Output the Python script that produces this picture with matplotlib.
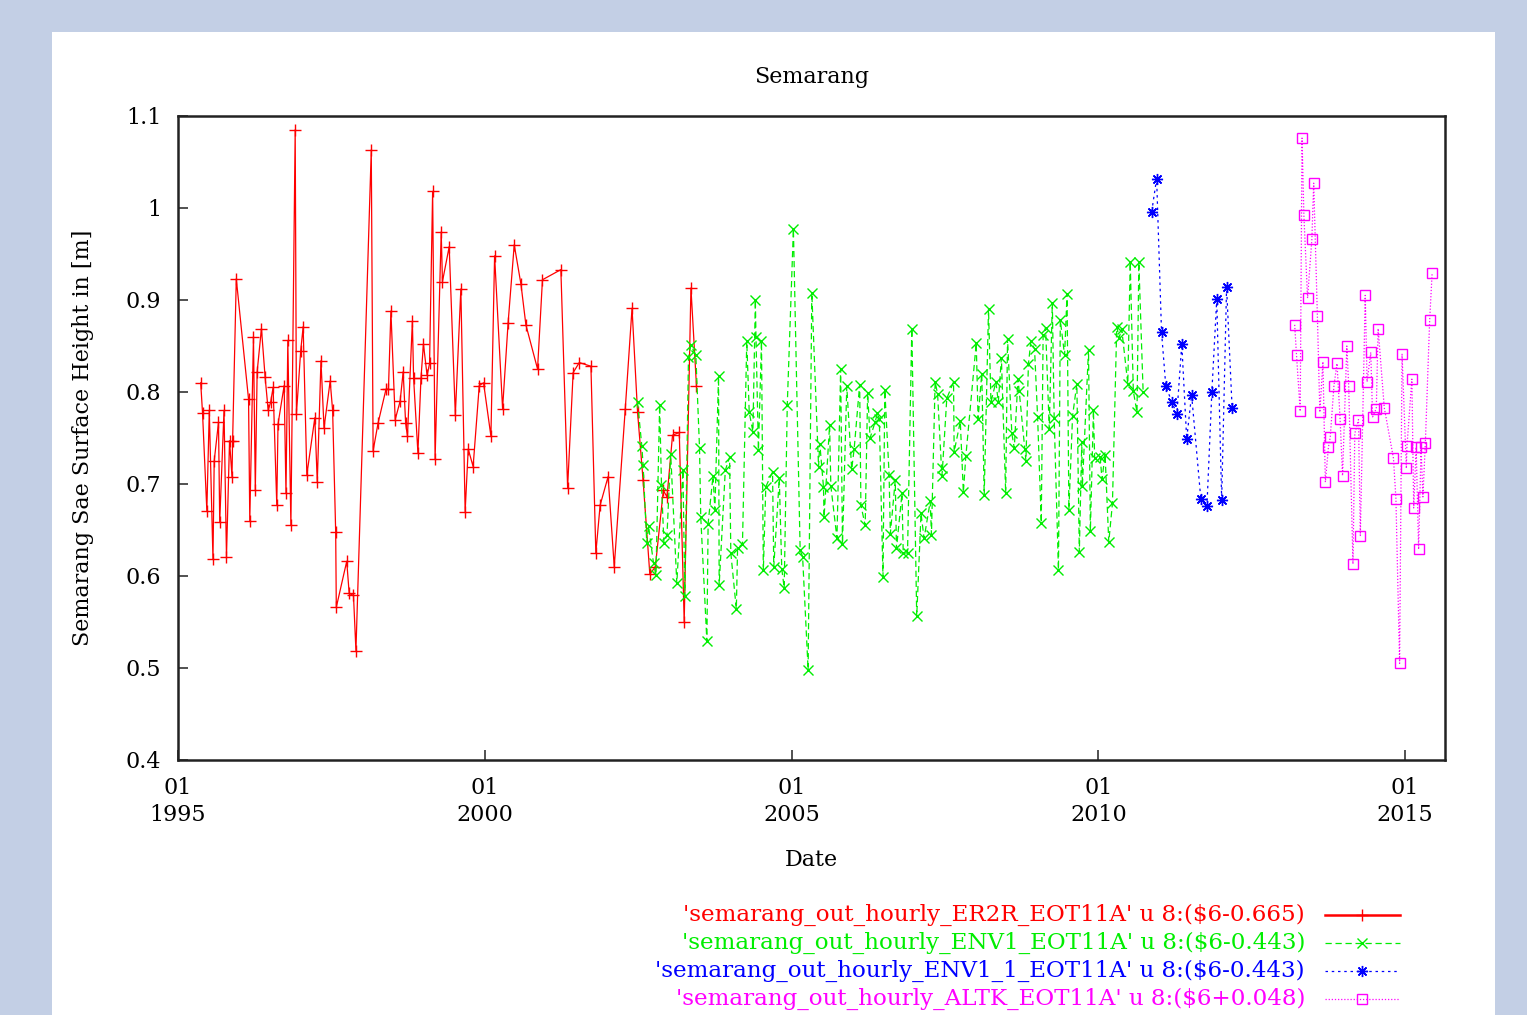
"""Semarang sea surface height from altimetry, gnuplot-style chart."""

import matplotlib
matplotlib.use("Agg")
import matplotlib.pyplot as plt
from matplotlib.lines import Line2D
from matplotlib.patches import Rectangle

# --- data (decimal year, height in m) ---
er2r_t = [1995.37, 1995.40, 1995.47, 1995.51, 1995.57, 1995.59, 1995.66, 1995.68, 1995.75, 1995.79,
          1995.84, 1995.88, 1995.89, 1995.95, 1996.15, 1996.17, 1996.23, 1996.26, 1996.29, 1996.36,
          1996.42, 1996.47, 1996.51, 1996.55, 1996.61, 1996.63, 1996.73, 1996.76, 1996.79, 1996.84,
          1996.91, 1996.93, 1997.00, 1997.04, 1997.10, 1997.23, 1997.27, 1997.33, 1997.38, 1997.48,
          1997.52, 1997.57, 1997.58, 1997.75, 1997.79, 1997.86, 1997.90, 1998.15, 1998.18, 1998.26,
          1998.39, 1998.43, 1998.47, 1998.54, 1998.62, 1998.67, 1998.71, 1998.74, 1998.82, 1998.84,
          1998.91, 1998.96, 1999.00, 1999.06, 1999.10, 1999.15, 1999.19, 1999.29, 1999.31, 1999.42,
          1999.52, 1999.61, 1999.68, 1999.73, 1999.81, 1999.91, 1999.98, 2000.10, 2000.16, 2000.29,
          2000.38, 2000.48, 2000.59, 2000.67, 2000.86, 2000.94, 2001.24, 2001.35, 2001.44, 2001.54,
          2001.73, 2001.81, 2001.88, 2002.01, 2002.11, 2002.29, 2002.40, 2002.49, 2002.58, 2002.69,
          2002.78, 2002.91, 2002.97, 2003.06, 2003.17, 2003.25, 2003.36, 2003.45]
er2r_h = [0.810, 0.777, 0.671, 0.780, 0.618, 0.725, 0.767, 0.659, 0.780, 0.621,
          0.747, 0.708, 0.747, 0.923, 0.792, 0.660, 0.860, 0.693, 0.822, 0.869,
          0.816, 0.780, 0.789, 0.805, 0.677, 0.765, 0.807, 0.690, 0.856, 0.655,
          1.085, 0.776, 0.845, 0.871, 0.710, 0.772, 0.702, 0.834, 0.761, 0.812,
          0.780, 0.648, 0.566, 0.616, 0.581, 0.579, 0.519, 1.063, 0.736, 0.766,
          0.803, 0.803, 0.888, 0.770, 0.790, 0.822, 0.766, 0.752, 0.877, 0.815,
          0.734, 0.815, 0.852, 0.818, 0.831, 1.018, 0.727, 0.974, 0.920, 0.958,
          0.775, 0.912, 0.670, 0.738, 0.719, 0.807, 0.810, 0.752, 0.948, 0.782,
          0.875, 0.960, 0.917, 0.873, 0.825, 0.922, 0.933, 0.696, 0.821, 0.832,
          0.828, 0.625, 0.677, 0.708, 0.610, 0.782, 0.891, 0.778, 0.704, 0.602,
          0.610, 0.693, 0.686, 0.753, 0.756, 0.550, 0.913, 0.807]

env1_t = [2002.49, 2002.56, 2002.58, 2002.64, 2002.67, 2002.75, 2002.79, 2002.85, 2002.88, 2002.92,
          2002.97, 2003.03, 2003.13, 2003.23, 2003.26, 2003.32, 2003.36, 2003.44, 2003.50, 2003.52,
          2003.62, 2003.64, 2003.72, 2003.75, 2003.81, 2003.82, 2003.92, 2003.99, 2004.01, 2004.10,
          2004.12, 2004.20, 2004.27, 2004.31, 2004.37, 2004.41, 2004.42, 2004.46, 2004.51, 2004.54,
          2004.58, 2004.69, 2004.71, 2004.80, 2004.84, 2004.88, 2004.93, 2005.03, 2005.14, 2005.18,
          2005.27, 2005.33, 2005.44, 2005.46, 2005.52, 2005.53, 2005.62, 2005.64, 2005.74, 2005.80,
          2005.83, 2005.90, 2005.98, 2006.02, 2006.11, 2006.13, 2006.20, 2006.24, 2006.28, 2006.36,
          2006.40, 2006.43, 2006.49, 2006.52, 2006.59, 2006.61, 2006.69, 2006.71, 2006.80, 2006.82,
          2006.89, 2006.96, 2007.04, 2007.11, 2007.16, 2007.26, 2007.28, 2007.34, 2007.38, 2007.45,
          2007.46, 2007.53, 2007.64, 2007.65, 2007.75, 2007.80, 2007.84, 2008.01, 2008.04, 2008.10,
          2008.14, 2008.21, 2008.25, 2008.33, 2008.37, 2008.42, 2008.49, 2008.52, 2008.59, 2008.63,
          2008.69, 2008.71, 2008.80, 2008.82, 2008.86, 2008.90, 2008.96, 2009.01, 2009.07, 2009.10,
          2009.14, 2009.20, 2009.25, 2009.28, 2009.35, 2009.38, 2009.45, 2009.49, 2009.52, 2009.58,
          2009.65, 2009.69, 2009.73, 2009.74, 2009.84, 2009.87, 2009.92, 2009.94, 2010.03, 2010.06,
          2010.11, 2010.17, 2010.23, 2010.30, 2010.34, 2010.38, 2010.48, 2010.52, 2010.57, 2010.63,
          2010.66, 2010.73]
env1_h = [0.789, 0.741, 0.721, 0.636, 0.654, 0.614, 0.601, 0.786, 0.699, 0.636,
          0.645, 0.733, 0.592, 0.715, 0.578, 0.838, 0.851, 0.840, 0.739, 0.664,
          0.529, 0.657, 0.709, 0.672, 0.817, 0.590, 0.715, 0.729, 0.625, 0.564,
          0.630, 0.635, 0.855, 0.778, 0.757, 0.900, 0.860, 0.737, 0.855, 0.606,
          0.697, 0.713, 0.610, 0.706, 0.608, 0.587, 0.786, 0.977, 0.628, 0.621,
          0.498, 0.908, 0.719, 0.744, 0.697, 0.664, 0.764, 0.698, 0.641, 0.825,
          0.635, 0.806, 0.716, 0.738, 0.808, 0.677, 0.655, 0.799, 0.750, 0.767,
          0.777, 0.771, 0.599, 0.802, 0.710, 0.646, 0.704, 0.630, 0.690, 0.625,
          0.625, 0.869, 0.556, 0.668, 0.641, 0.681, 0.645, 0.811, 0.798, 0.709,
          0.717, 0.793, 0.811, 0.735, 0.768, 0.691, 0.730, 0.853, 0.771, 0.820,
          0.688, 0.890, 0.789, 0.811, 0.789, 0.837, 0.690, 0.858, 0.755, 0.739,
          0.814, 0.801, 0.738, 0.725, 0.830, 0.855, 0.847, 0.773, 0.658, 0.862,
          0.870, 0.760, 0.897, 0.772, 0.607, 0.878, 0.840, 0.907, 0.672, 0.774,
          0.809, 0.626, 0.746, 0.698, 0.846, 0.649, 0.780, 0.728, 0.729, 0.705,
          0.732, 0.637, 0.679, 0.871, 0.859, 0.869, 0.809, 0.941, 0.801, 0.778,
          0.941, 0.800]

env1_1_t = [2010.87, 2010.95, 2011.03, 2011.10, 2011.20, 2011.28, 2011.36, 2011.44,
            2011.52, 2011.67, 2011.77, 2011.85, 2011.93, 2012.01, 2012.09, 2012.18]
env1_1_h = [0.996, 1.032, 0.865, 0.806, 0.789, 0.776, 0.852, 0.749,
            0.797, 0.684, 0.676, 0.800, 0.901, 0.683, 0.914, 0.783]

altk_t = [2013.20, 2013.23, 2013.29, 2013.32, 2013.35, 2013.41, 2013.48, 2013.51, 2013.57, 2013.61,
          2013.66, 2013.70, 2013.75, 2013.78, 2013.84, 2013.89, 2013.94, 2013.98, 2014.05, 2014.08,
          2014.15, 2014.18, 2014.24, 2014.27, 2014.35, 2014.38, 2014.44, 2014.47, 2014.53, 2014.56,
          2014.66, 2014.81, 2014.85, 2014.91, 2014.95, 2015.02, 2015.03, 2015.11, 2015.14, 2015.18,
          2015.22, 2015.26, 2015.29, 2015.33, 2015.40, 2015.44]
altk_h = [0.873, 0.840, 0.779, 1.076, 0.992, 0.902, 0.966, 1.027, 0.883, 0.778,
          0.833, 0.702, 0.740, 0.751, 0.807, 0.831, 0.771, 0.709, 0.850, 0.807,
          0.613, 0.755, 0.770, 0.644, 0.905, 0.811, 0.843, 0.773, 0.782, 0.869,
          0.783, 0.728, 0.684, 0.505, 0.841, 0.717, 0.741, 0.814, 0.674, 0.740,
          0.629, 0.740, 0.686, 0.745, 0.878, 0.929]

labels = [
    "'semarang_out_hourly_ER2R_EOT11A' u 8:($6-0.665)",
    "'semarang_out_hourly_ENV1_EOT11A' u 8:($6-0.443)",
    "'semarang_out_hourly_ENV1_1_EOT11A' u 8:($6-0.443)",
    "'semarang_out_hourly_ALTK_EOT11A' u 8:($6+0.048)",
]
x_ticks = [1995, 2000, 2005, 2010, 2015]
x_tick_labels = ["01\n1995", "01\n2000", "01\n2005", "01\n2010", "01\n2015"]
y_ticks = [0.4, 0.5, 0.6, 0.7, 0.8, 0.9, 1.0, 1.1]
y_tick_labels = ["0.4", "0.5", "0.6", "0.7", "0.8", "0.9", "1", "1.1"]

FONT = "DejaVu Serif"
FS = 16

styles = [
    dict(color="#ff0000", ls="-", marker="+", ms=8, mew=1.0),
    dict(color="#00ee00", ls=(0, (5, 3)), marker="x", ms=6.5, mew=1.0),
    dict(color="#0000ff", ls=(0, (2, 3)), marker=(8, 2, 0), ms=8, mew=1.0),
    dict(color="#ff00ff", ls=(0, (1, 1.5)), marker="s", ms=7, mew=1.0, mfc="none"),
]
series = [(er2r_t, er2r_h), (env1_t, env1_h), (env1_1_t, env1_1_h), (altk_t, altk_h)]

fig = plt.figure(figsize=(15.27, 10.15), dpi=100)
fig.patch.set_facecolor("#c3cfe5")
# white page behind everything
fig.patches.append(Rectangle((52 / 1527, 0), (1495 - 52) / 1527, (1015 - 32) / 1015,
                             transform=fig.transFigure, facecolor="white",
                             edgecolor="none", zorder=-10))

ax = fig.add_axes([178 / 1527, 1 - 760 / 1015, (1445 - 178) / 1527, (760 - 116) / 1015])
ax.set_zorder(1)

for (t, h), st in zip(series, styles):
    ax.plot(t, h, lw=0.9, **st)

ax.set_xlim(1995.0, 2015.65)
ax.set_ylim(0.4, 1.1)
ax.set_xticks(x_ticks)
ax.set_xticklabels(x_tick_labels, fontfamily=FONT, fontsize=FS, linespacing=1.3)
ax.set_yticks(y_ticks)
ax.set_yticklabels(y_tick_labels, fontfamily=FONT, fontsize=FS)
ax.tick_params(direction="in", length=7, width=1.2, color="#333333",
               top=False, right=False)
ax.tick_params(axis="y", pad=12)
ax.tick_params(axis="x", pad=12)
for sp in ax.spines.values():
    sp.set_linewidth(1.8)
    sp.set_color("#222222")

ax.set_title("Semarang", fontfamily=FONT, fontsize=FS, pad=24)
ax.set_xlabel("Date", fontfamily=FONT, fontsize=FS)
ax.xaxis.set_label_coords(0.5, -0.138)
ax.set_ylabel("Semarang Sae Surface Height in [m]", fontfamily=FONT, fontsize=FS)
ax.yaxis.set_label_coords(-0.066, 0.5)

# legend below the plot, right-aligned text with sample on the right
row_y = [915, 943, 971, 999]
for lab, st, yy in zip(labels, styles, row_y):
    fy = 1 - yy / 1015
    fig.text(1305 / 1527, fy, lab, color=st["color"], ha="right", va="center",
             fontfamily=FONT, fontsize=16.6)
    fig.lines.append(Line2D([1325 / 1527, 1400 / 1527], [fy, fy], transform=fig.transFigure,
                            color=st["color"], ls=st["ls"], lw=0.9 if st["ls"] != "-" else 1.8))
    fig.lines.append(Line2D([1362 / 1527], [fy], transform=fig.transFigure,
                            color=st["color"], ls="none", marker=st["marker"], ms=st["ms"],
                            mew=st["mew"], mfc=st.get("mfc", st["color"])))

fig.savefig("out.png", dpi=100)
